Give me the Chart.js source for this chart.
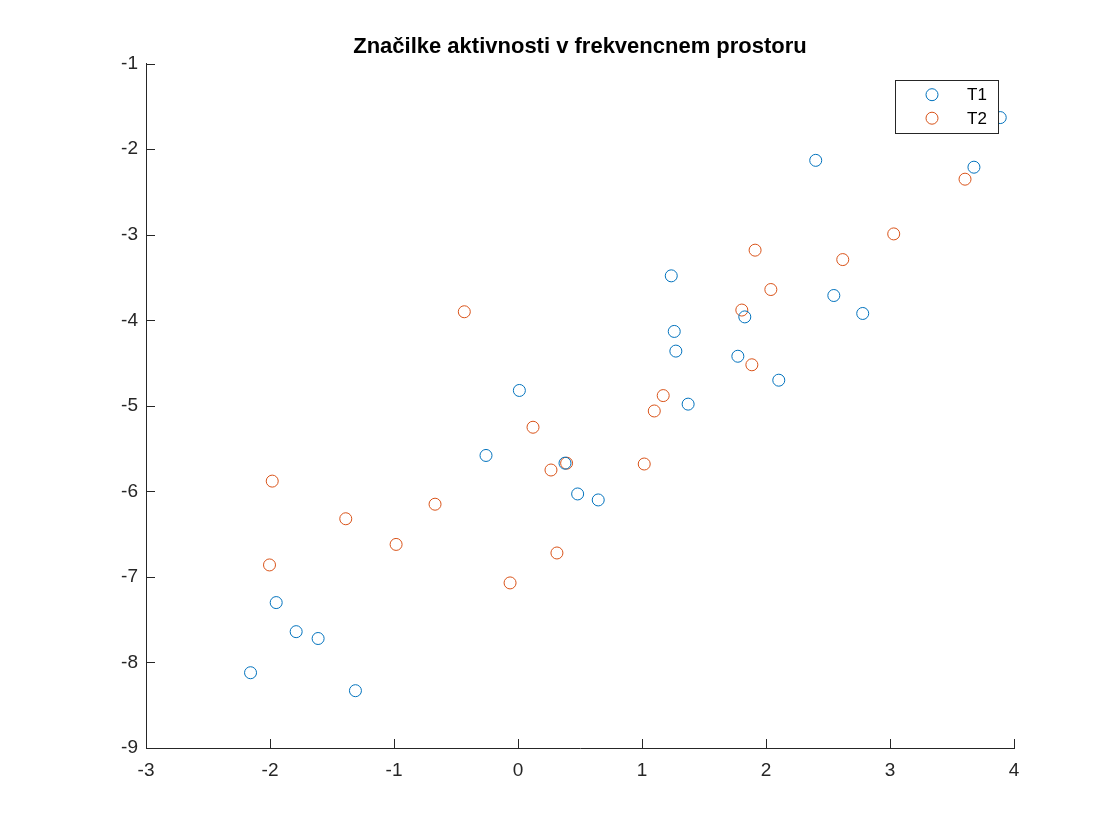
<!DOCTYPE html>
<html>
<head>
<meta charset="utf-8">
<script src="https://cdn.jsdelivr.net/npm/chart.js@4.4.1/dist/chart.umd.min.js"></script>
<style>
html,body{margin:0;padding:0;background:#fff;}
canvas{display:block;}
</style>
</head>
<body>
<canvas id="c" width="1120" height="840"></canvas>
<script>
const titleText = 'Značilke aktivnosti v frekvencnem prostoru';
const seriesNames = ['T1', 'T2'];
const xTicks = [-3, -2, -1, 0, 1, 2, 3, 4];
const yTicks = [-9, -8, -7, -6, -5, -4, -3, -2, -1];

const t1X = [-2.157, -1.950, -1.789, -1.612, -1.311, -0.258, 0.011, 0.379, 0.481, 0.647,
             1.236, 1.260, 1.273, 1.372, 1.773, 1.829, 2.103, 2.401, 2.547, 2.780, 3.677, 3.889];
const t1Y = [-8.12, -7.30, -7.64, -7.72, -8.33, -5.58, -4.82, -5.67, -6.03, -6.10,
             -3.48, -4.13, -4.36, -4.98, -4.42, -3.96, -4.70, -2.13, -3.71, -3.92, -2.21, -1.63];
const t2X = [-2.004, -1.982, -1.389, -0.983, -0.669, -0.433, -0.064, 0.121, 0.266, 0.314, 0.392,
             1.018, 1.099, 1.171, 1.805, 1.886, 1.912, 2.039, 2.619, 3.030, 3.605];
const t2Y = [-6.86, -5.88, -6.32, -6.62, -6.15, -3.90, -7.07, -5.25, -5.75, -6.72, -5.67,
             -5.68, -5.06, -4.88, -3.88, -4.52, -3.18, -3.64, -3.29, -2.99, -2.35];

const colors = ['#0072BD', '#D95319'];
const axisColor = '#262626';
const FONT = '"Liberation Sans", Arial, Helvetica, sans-serif';

function pts(xs, ys) { return xs.map((x, i) => ({x: x, y: ys[i]})); }

const inwardTicks = {
  id: 'inwardTicks',
  afterDatasetsDraw(chart) {
    const ctx = chart.ctx, a = chart.chartArea;
    const xs = chart.scales.x, ys = chart.scales.y;
    ctx.save();
    ctx.strokeStyle = axisColor;
    ctx.lineWidth = 1;
    ctx.beginPath();
    xTicks.forEach(v => {
      const p = Math.round(xs.getPixelForValue(v)) + 0.5;
      ctx.moveTo(p, a.bottom); ctx.lineTo(p, a.bottom - 9);
    });
    yTicks.forEach(v => {
      const p = Math.round(ys.getPixelForValue(v)) + 0.5;
      ctx.moveTo(a.left, p); ctx.lineTo(a.left + 9, p);
    });
    ctx.stroke();
    ctx.restore();
  }
};

const boxLegend = {
  id: 'boxLegend',
  afterDraw(chart) {
    const ctx = chart.ctx, a = chart.chartArea;
    const bx = a.right - 119, by = a.top + 16, bw = 103, bh = 53;
    ctx.save();
    ctx.fillStyle = '#fff';
    ctx.fillRect(bx, by, bw, bh);
    ctx.strokeStyle = axisColor;
    ctx.lineWidth = 1;
    ctx.strokeRect(Math.round(bx) + 0.5, Math.round(by) + 0.5, bw, bh);
    chart.data.datasets.forEach((ds, i) => {
      const cy = by + 15 + i * 23.5;
      ctx.beginPath();
      ctx.strokeStyle = ds.borderColor;
      ctx.lineWidth = 1;
      ctx.arc(bx + 37, cy, 6, 0, Math.PI * 2);
      ctx.stroke();
      ctx.fillStyle = '#000';
      ctx.font = '17px ' + FONT;
      ctx.textBaseline = 'middle';
      ctx.textAlign = 'left';
      ctx.fillText(ds.label, bx + 72, cy + 1);
    });
    ctx.restore();
  }
};

new Chart(document.getElementById('c'), {
  type: 'scatter',
  data: {
    datasets: [
      { label: seriesNames[0], data: pts(t1X, t1Y), borderColor: colors[0], backgroundColor: 'rgba(0,0,0,0)',
        pointStyle: 'circle', pointRadius: 6, pointBorderWidth: 1, pointHoverRadius: 6 },
      { label: seriesNames[1], data: pts(t2X, t2Y), borderColor: colors[1], backgroundColor: 'rgba(0,0,0,0)',
        pointStyle: 'circle', pointRadius: 6, pointBorderWidth: 1, pointHoverRadius: 6 }
    ]
  },
  options: {
    responsive: false,
    animation: false,
    devicePixelRatio: 1,
    clip: false,
    layout: { padding: { left: 40, right: 0, top: 0, bottom: 0 } },
    plugins: {
      legend: { display: false },
      tooltip: { enabled: false },
      title: {
        display: true,
        text: titleText,
        color: '#000',
        font: { family: FONT, size: 22, weight: 'bold', lineHeight: 1.2 },
        padding: { top: 33.8, bottom: 3.5 }
      }
    },
    scales: {
      x: {
        type: 'linear', min: -3, max: 4,
        afterFit(s) { s.height = 92; },
        afterBuildTicks(s) { s.ticks = xTicks.map(v => ({value: v})); },
        grid: { display: true, drawOnChartArea: false, drawTicks: false },
        border: { display: true, color: axisColor, width: 1 },
        ticks: { color: axisColor, font: { family: FONT, size: 19 }, padding: 11, maxRotation: 0 }
      },
      y: {
        type: 'linear', min: -9, max: -1,
        afterFit(s) { s.width = 106; },
        afterBuildTicks(s) { s.ticks = yTicks.map(v => ({value: v})); },
        grid: { display: true, drawOnChartArea: false, drawTicks: false },
        border: { display: true, color: axisColor, width: 1 },
        ticks: { color: axisColor, font: { family: FONT, size: 19 }, padding: 8 }
      },
      yRight: {
        type: 'linear', position: 'right', min: -9, max: -1,
        afterFit(s) { s.width = 106; },
        grid: { display: false },
        border: { display: false },
        ticks: { display: false }
      }
    }
  },
  plugins: [inwardTicks, boxLegend]
});
</script>
</body>
</html>
